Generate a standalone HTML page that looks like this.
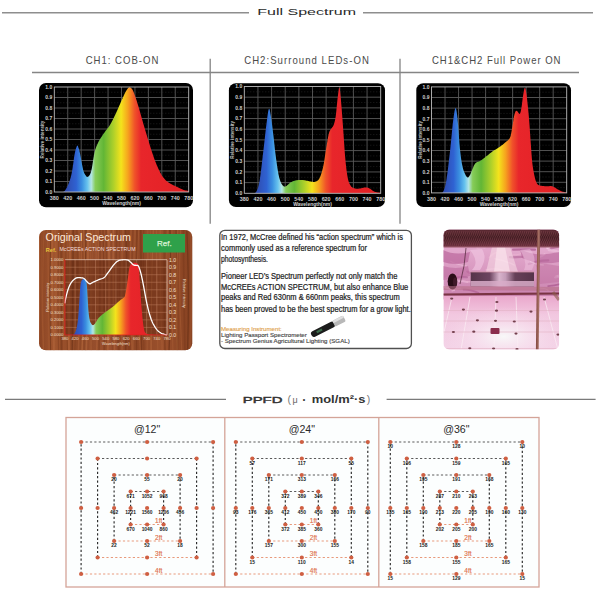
<!DOCTYPE html>
<html><head><meta charset="utf-8"><style>html,body{margin:0;padding:0;background:#fff;width:600px;height:600px;overflow:hidden}svg{display:block}</style></head><body>
<svg width="600" height="600" viewBox="0 0 600 600"><path d="M2 12.8H249M363 12.8H593" stroke="#8e8e8e" stroke-width="1.6"/>
<text x="257.3" y="14.8" fill="#2a2a2a" font-family="Liberation Sans, sans-serif" font-size="9.3" textLength="98.7" lengthAdjust="spacingAndGlyphs">Full Spectrum</text>
<path d="M32 72.5H579M210.2 58.7V223.8M400 58.7V223.8" stroke="#858585" stroke-width="1.3"/>
<g fill="#4a4a4a" font-family="Liberation Sans, sans-serif" font-size="10.3"><text transform="translate(85.7 63.8) scale(0.93 1)" x="0" y="0" textLength="78.1" lengthAdjust="spacing">CH1: COB-ON</text><text transform="translate(244.2 63.8) scale(0.93 1)" x="0" y="0" textLength="134.0" lengthAdjust="spacing">CH2:Surround LEDs-ON</text><text transform="translate(432 63.8) scale(0.93 1)" x="0" y="0" textLength="138.2" lengthAdjust="spacing">CH1&amp;CH2 Full Power ON</text></g>
<linearGradient id="g1" gradientUnits="userSpaceOnUse" x1="54.3" y1="0" x2="188.7" y2="0"><stop offset="0.000" stop-color="#2a2c8c"/><stop offset="0.100" stop-color="#2f4fb5"/><stop offset="0.163" stop-color="#2f62d2"/><stop offset="0.205" stop-color="#3a8fe0"/><stop offset="0.245" stop-color="#66c2ee"/><stop offset="0.275" stop-color="#b4e6e6"/><stop offset="0.305" stop-color="#86cc58"/><stop offset="0.367" stop-color="#62b636"/><stop offset="0.440" stop-color="#aed02a"/><stop offset="0.497" stop-color="#f4e31c"/><stop offset="0.547" stop-color="#f6a41e"/><stop offset="0.598" stop-color="#f0522a"/><stop offset="0.645" stop-color="#e8262b"/><stop offset="1.000" stop-color="#e22024"/></linearGradient>
<rect x="39" y="83" width="154" height="124.3" rx="7" fill="#000"/>
<path d="M54.3 97.5H188.7M54.3 108H188.7M54.3 118.5H188.7M54.3 129H188.7M54.3 139.5H188.7M54.3 150H188.7M54.3 160.5H188.7M54.3 171H188.7M54.3 181.5H188.7M67.74 87V192M81.18 87V192M94.62 87V192M108.06 87V192M121.5 87V192M134.94 87V192M148.38 87V192M161.82 87V192M175.26 87V192" stroke="#5a5a5a" stroke-width="0.9" fill="none"/>
<path d="M54.3 92.25H188.7M54.3 102.75H188.7M54.3 113.25H188.7M54.3 123.75H188.7M54.3 134.25H188.7M54.3 144.75H188.7M54.3 155.25H188.7M54.3 165.75H188.7M54.3 176.25H188.7M54.3 186.75H188.7" stroke="#333" stroke-width="0.6" stroke-dasharray="1 2" fill="none"/>
<path d="M54.3 192L54.3 192L55.27 192L56.66 192L58.29 192L59.96 192L61.49 192L62.7 192L63.55 191.71L64.19 191.34L64.69 190.88L65.13 190.33L65.56 189.65L66.06 188.85L66.63 187.9L67.2 186.83L67.78 185.63L68.35 184.34L68.9 182.96L69.42 181.5L69.91 180.02L70.37 178.51L70.81 176.91L71.24 175.16L71.67 173.21L72.11 171L72.56 168.33L73.02 165.21L73.47 161.88L73.92 158.59L74.37 155.6L74.8 153.15L75.22 151.21L75.64 149.57L76.06 148.23L76.45 147.16L76.82 146.36L77.15 145.8L77.43 145.55L77.66 145.64L77.86 146L78.06 146.54L78.26 147.2L78.49 147.9L78.74 148.6L78.98 149.34L79.23 150.2L79.5 151.24L79.81 152.55L80.17 154.2L80.61 156.4L81.11 159.14L81.64 162.14L82.19 165.13L82.72 167.82L83.2 169.95L83.63 171.48L84.03 172.61L84.41 173.46L84.79 174.11L85.16 174.66L85.55 175.2L85.93 175.76L86.29 176.27L86.66 176.68L87.04 176.93L87.45 176.98L87.9 176.78L88.4 176.39L88.95 175.88L89.52 175.17L90.1 174.17L90.69 172.81L91.26 171L91.81 168.51L92.36 165.36L92.9 161.85L93.45 158.26L94.02 154.92L94.62 152.1L95.23 149.85L95.84 147.94L96.47 146.26L97.13 144.71L97.86 143.19L98.65 141.6L99.55 139.94L100.54 138.29L101.59 136.68L102.66 135.11L103.71 133.59L104.7 132.15L105.63 130.84L106.54 129.66L107.43 128.54L108.31 127.41L109.19 126.18L110.08 124.8L110.98 123.23L111.89 121.53L112.81 119.75L113.71 117.92L114.59 116.09L115.45 114.3L116.27 112.55L117.07 110.8L117.85 109.05L118.61 107.3L119.38 105.55L120.16 103.8L120.96 101.99L121.77 100.11L122.59 98.22L123.39 96.41L124.15 94.75L124.86 93.3L125.51 92.07L126.13 90.99L126.71 90.05L127.25 89.26L127.75 88.59L128.22 88.05L128.62 87.64L128.95 87.37L129.25 87.23L129.54 87.21L129.86 87.31L130.24 87.53L130.66 87.77L131.09 88.03L131.56 88.41L132.07 89L132.63 89.9L133.26 91.2L133.98 92.98L134.79 95.17L135.65 97.66L136.55 100.36L137.44 103.14L138.3 105.9L139.14 108.7L139.98 111.66L140.82 114.69L141.66 117.76L142.5 120.8L143.34 123.75L144.18 126.62L145.02 129.47L145.86 132.28L146.7 135.07L147.54 137.82L148.38 140.55L149.22 143.27L150.06 145.99L150.9 148.69L151.74 151.32L152.58 153.87L153.42 156.3L154.26 158.63L155.11 160.89L155.96 163.06L156.8 165.13L157.64 167.08L158.46 168.9L159.26 170.58L160.03 172.13L160.79 173.56L161.56 174.89L162.34 176.13L163.16 177.3L163.99 178.37L164.81 179.32L165.64 180.19L166.52 180.99L167.48 181.77L168.54 182.55L169.74 183.32L171.07 184.07L172.47 184.78L173.89 185.47L175.29 186.12L176.6 186.75L177.86 187.36L179.11 187.96L180.32 188.52L181.49 189.04L182.61 189.51L183.66 189.9L184.67 190.21L185.68 190.44L186.62 190.62L187.47 190.76L188.17 190.86L188.7 190.95L188.7 192Z" fill="url(#g1)"/>
<rect x="54.3" y="87" width="134.4" height="105" fill="none" stroke="#bbb" stroke-width="0.9"/>
<g fill="#d0d0d0" font-family="Liberation Sans, sans-serif" font-size="5" font-weight="bold"><text x="52.3" y="88.8" text-anchor="end">1.0</text><text x="52.3" y="99.3" text-anchor="end">0.9</text><text x="52.3" y="109.8" text-anchor="end">0.8</text><text x="52.3" y="120.3" text-anchor="end">0.7</text><text x="52.3" y="130.8" text-anchor="end">0.6</text><text x="52.3" y="141.3" text-anchor="end">0.5</text><text x="52.3" y="151.8" text-anchor="end">0.4</text><text x="52.3" y="162.3" text-anchor="end">0.3</text><text x="52.3" y="172.8" text-anchor="end">0.2</text><text x="52.3" y="183.3" text-anchor="end">0.1</text><text x="52.3" y="193.8" text-anchor="end">0.0</text><text x="54.3" y="199.6" text-anchor="middle" font-size="5.4">380</text><text x="67.74" y="199.6" text-anchor="middle" font-size="5.4">420</text><text x="81.18" y="199.6" text-anchor="middle" font-size="5.4">460</text><text x="94.62" y="199.6" text-anchor="middle" font-size="5.4">500</text><text x="108.06" y="199.6" text-anchor="middle" font-size="5.4">540</text><text x="121.5" y="199.6" text-anchor="middle" font-size="5.4">580</text><text x="134.94" y="199.6" text-anchor="middle" font-size="5.4">620</text><text x="148.38" y="199.6" text-anchor="middle" font-size="5.4">660</text><text x="161.82" y="199.6" text-anchor="middle" font-size="5.4">700</text><text x="175.26" y="199.6" text-anchor="middle" font-size="5.4">740</text><text x="188.7" y="199.6" text-anchor="middle" font-size="5.4">780</text></g>
<text x="121.5" y="204.6" text-anchor="middle" fill="#d0d0d0" font-family="Liberation Sans, sans-serif" font-size="5" font-weight="bold">Wavelength(nm)</text>
<text transform="translate(44.2 139.5) rotate(-90)" text-anchor="middle" fill="#c0c0c0" font-family="Liberation Sans, sans-serif" font-size="4.6" font-weight="bold">Relative intensity</text>
<linearGradient id="g2" gradientUnits="userSpaceOnUse" x1="244.3" y1="0" x2="380.7" y2="0"><stop offset="0.000" stop-color="#2a2c8c"/><stop offset="0.100" stop-color="#2f4fb5"/><stop offset="0.163" stop-color="#2f62d2"/><stop offset="0.205" stop-color="#3a8fe0"/><stop offset="0.245" stop-color="#66c2ee"/><stop offset="0.275" stop-color="#b4e6e6"/><stop offset="0.305" stop-color="#86cc58"/><stop offset="0.367" stop-color="#62b636"/><stop offset="0.440" stop-color="#aed02a"/><stop offset="0.497" stop-color="#f4e31c"/><stop offset="0.547" stop-color="#f6a41e"/><stop offset="0.598" stop-color="#f0522a"/><stop offset="0.645" stop-color="#e8262b"/><stop offset="1.000" stop-color="#e22024"/></linearGradient>
<rect x="228.9" y="83.3" width="156.1" height="123.7" rx="7" fill="#000"/>
<path d="M244.3 97.18H380.7M244.3 107.86H380.7M244.3 118.54H380.7M244.3 129.22H380.7M244.3 139.9H380.7M244.3 150.58H380.7M244.3 161.26H380.7M244.3 171.94H380.7M244.3 182.62H380.7M257.94 86.5V193.3M271.58 86.5V193.3M285.22 86.5V193.3M298.86 86.5V193.3M312.5 86.5V193.3M326.14 86.5V193.3M339.78 86.5V193.3M353.42 86.5V193.3M367.06 86.5V193.3" stroke="#5a5a5a" stroke-width="0.9" fill="none"/>
<path d="M244.3 91.84H380.7M244.3 102.52H380.7M244.3 113.2H380.7M244.3 123.88H380.7M244.3 134.56H380.7M244.3 145.24H380.7M244.3 155.92H380.7M244.3 166.6H380.7M244.3 177.28H380.7M244.3 187.96H380.7" stroke="#333" stroke-width="0.6" stroke-dasharray="1 2" fill="none"/>
<path d="M244.3 193.3L244.3 193.3L245.28 193.3L246.69 193.3L248.33 193.3L250.02 193.3L251.58 193.3L252.83 193.3L253.73 193.17L254.45 193.06L255.04 192.9L255.55 192.59L256.05 192.04L256.58 191.16L257.12 190.1L257.62 188.95L258.11 187.56L258.6 185.78L259.1 183.48L259.64 180.48L260.24 176.58L260.87 171.82L261.52 166.53L262.17 161.02L262.8 155.6L263.4 150.58L263.95 145.81L264.49 141.01L265.02 136.3L265.52 131.79L266 127.61L266.47 123.88L266.91 120.45L267.32 117.2L267.72 114.27L268.11 111.82L268.48 109.99L268.85 108.93L269.21 108.75L269.55 109.36L269.88 110.6L270.2 112.29L270.54 114.28L270.9 116.4L271.28 118.81L271.68 121.66L272.09 124.81L272.5 128.11L272.9 131.41L273.29 134.56L273.64 137.57L273.97 140.57L274.29 143.57L274.61 146.58L274.95 149.63L275.33 152.72L275.75 155.97L276.2 159.4L276.67 162.86L277.15 166.2L277.62 169.28L278.06 171.94L278.47 174.16L278.87 176.05L279.25 177.68L279.64 179.1L280.03 180.37L280.45 181.55L280.88 182.62L281.33 183.51L281.79 184.26L282.25 184.87L282.72 185.39L283.17 185.82L283.61 186.18L284.02 186.44L284.43 186.59L284.87 186.63L285.35 186.56L285.9 186.36L286.53 185.96L287.23 185.37L287.97 184.66L288.74 183.91L289.54 183.2L290.34 182.62L291.15 182.15L291.99 181.73L292.85 181.35L293.72 181.02L294.59 180.73L295.45 180.48L296.3 180.29L297.15 180.15L298.01 180.05L298.86 179.99L299.71 179.96L300.56 179.95L301.42 179.97L302.27 180.03L303.12 180.12L303.98 180.23L304.83 180.35L305.68 180.48L306.53 180.64L307.38 180.84L308.24 181.05L309.09 181.26L309.94 181.43L310.8 181.55L311.66 181.66L312.54 181.79L313.42 181.89L314.28 181.91L315.12 181.81L315.91 181.55L316.66 181.17L317.38 180.72L318.06 180.15L318.73 179.42L319.37 178.47L320 177.28L320.62 175.82L321.21 174.12L321.79 172.21L322.35 170.12L322.89 167.89L323.41 165.53L323.91 162.97L324.37 160.15L324.82 157.19L325.26 154.18L325.69 151.23L326.14 148.44L326.6 145.7L327.07 142.91L327.55 140.17L328.01 137.61L328.45 135.34L328.87 133.49L329.24 132.16L329.58 131.28L329.89 130.69L330.21 130.25L330.54 129.81L330.91 129.22L331.34 128.56L331.8 127.95L332.28 127.35L332.76 126.69L333.22 125.91L333.64 124.95L334.02 123.89L334.37 122.81L334.71 121.61L335.03 120.2L335.35 118.5L335.69 116.4L336.03 113.71L336.38 110.43L336.73 106.86L337.08 103.27L337.41 99.95L337.73 97.18L338.04 94.74L338.33 92.35L338.61 90.24L338.88 88.6L339.16 87.64L339.44 87.57L339.72 88.5L339.99 90.3L340.27 92.77L340.55 95.76L340.84 99.06L341.14 102.52L341.47 106.27L341.8 110.47L342.15 115L342.5 119.73L342.85 124.51L343.19 129.22L343.53 134.01L343.86 139.03L344.19 144.11L344.53 149.08L344.88 153.78L345.24 158.06L345.61 161.94L345.98 165.57L346.37 168.94L346.76 172.02L347.18 174.81L347.62 177.28L348.08 179.39L348.54 181.14L349.03 182.59L349.54 183.81L350.09 184.86L350.69 185.82L351.34 186.64L352.04 187.25L352.78 187.69L353.55 188.02L354.33 188.27L355.12 188.49L355.93 188.66L356.74 188.73L357.58 188.73L358.43 188.67L359.32 188.59L360.24 188.49L361.23 188.35L362.29 188.12L363.37 187.86L364.45 187.62L365.46 187.46L366.38 187.43L367.18 187.53L367.89 187.72L368.55 187.99L369.18 188.32L369.81 188.67L370.47 189.03L371.13 189.43L371.76 189.9L372.39 190.4L373.05 190.89L373.76 191.33L374.56 191.7L375.54 191.98L376.68 192.21L377.89 192.4L379.03 192.55L380.01 192.67L380.7 192.77L380.7 193.3Z" fill="url(#g2)"/>
<rect x="244.3" y="86.5" width="136.4" height="106.8" fill="none" stroke="#bbb" stroke-width="0.9"/>
<g fill="#d0d0d0" font-family="Liberation Sans, sans-serif" font-size="5" font-weight="bold"><text x="242.3" y="88.3" text-anchor="end">1.0</text><text x="242.3" y="98.98" text-anchor="end">0.9</text><text x="242.3" y="109.66" text-anchor="end">0.8</text><text x="242.3" y="120.34" text-anchor="end">0.7</text><text x="242.3" y="131.02" text-anchor="end">0.6</text><text x="242.3" y="141.7" text-anchor="end">0.5</text><text x="242.3" y="152.38" text-anchor="end">0.4</text><text x="242.3" y="163.06" text-anchor="end">0.3</text><text x="242.3" y="173.74" text-anchor="end">0.2</text><text x="242.3" y="184.42" text-anchor="end">0.1</text><text x="242.3" y="195.1" text-anchor="end">0.0</text><text x="244.3" y="200.9" text-anchor="middle" font-size="5.4">380</text><text x="257.94" y="200.9" text-anchor="middle" font-size="5.4">420</text><text x="271.58" y="200.9" text-anchor="middle" font-size="5.4">460</text><text x="285.22" y="200.9" text-anchor="middle" font-size="5.4">500</text><text x="298.86" y="200.9" text-anchor="middle" font-size="5.4">540</text><text x="312.5" y="200.9" text-anchor="middle" font-size="5.4">580</text><text x="326.14" y="200.9" text-anchor="middle" font-size="5.4">620</text><text x="339.78" y="200.9" text-anchor="middle" font-size="5.4">660</text><text x="353.42" y="200.9" text-anchor="middle" font-size="5.4">700</text><text x="367.06" y="200.9" text-anchor="middle" font-size="5.4">740</text><text x="380.7" y="200.9" text-anchor="middle" font-size="5.4">780</text></g>
<text x="312.5" y="205.9" text-anchor="middle" fill="#d0d0d0" font-family="Liberation Sans, sans-serif" font-size="5" font-weight="bold">Wavelength(nm)</text>
<text transform="translate(234.1 139.9) rotate(-90)" text-anchor="middle" fill="#c0c0c0" font-family="Liberation Sans, sans-serif" font-size="4.6" font-weight="bold">Relative intensity</text>
<linearGradient id="g3" gradientUnits="userSpaceOnUse" x1="431.5" y1="0" x2="566.7" y2="0"><stop offset="0.000" stop-color="#2a2c8c"/><stop offset="0.100" stop-color="#2f4fb5"/><stop offset="0.163" stop-color="#2f62d2"/><stop offset="0.205" stop-color="#3a8fe0"/><stop offset="0.245" stop-color="#66c2ee"/><stop offset="0.275" stop-color="#b4e6e6"/><stop offset="0.305" stop-color="#86cc58"/><stop offset="0.367" stop-color="#62b636"/><stop offset="0.440" stop-color="#aed02a"/><stop offset="0.497" stop-color="#f4e31c"/><stop offset="0.547" stop-color="#f6a41e"/><stop offset="0.598" stop-color="#f0522a"/><stop offset="0.645" stop-color="#e8262b"/><stop offset="1.000" stop-color="#e22024"/></linearGradient>
<rect x="416.3" y="83.3" width="154.7" height="123.7" rx="7" fill="#000"/>
<path d="M431.5 97.5H566.7M431.5 108.1H566.7M431.5 118.7H566.7M431.5 129.3H566.7M431.5 139.9H566.7M431.5 150.5H566.7M431.5 161.1H566.7M431.5 171.7H566.7M431.5 182.3H566.7M445.02 86.9V192.9M458.54 86.9V192.9M472.06 86.9V192.9M485.58 86.9V192.9M499.1 86.9V192.9M512.62 86.9V192.9M526.14 86.9V192.9M539.66 86.9V192.9M553.18 86.9V192.9" stroke="#5a5a5a" stroke-width="0.9" fill="none"/>
<path d="M431.5 92.2H566.7M431.5 102.8H566.7M431.5 113.4H566.7M431.5 124H566.7M431.5 134.6H566.7M431.5 145.2H566.7M431.5 155.8H566.7M431.5 166.4H566.7M431.5 177H566.7M431.5 187.6H566.7" stroke="#333" stroke-width="0.6" stroke-dasharray="1 2" fill="none"/>
<path d="M431.5 192.9L431.5 192.9L432.48 192.9L433.88 192.9L435.51 192.9L437.2 192.9L438.74 192.9L439.95 192.9L440.81 192.84L441.46 192.84L441.98 192.8L442.42 192.61L442.84 192.15L443.33 191.31L443.85 190.22L444.34 188.99L444.83 187.5L445.32 185.62L445.83 183.22L446.37 180.18L446.96 176.31L447.59 171.66L448.23 166.5L448.88 161.08L449.5 155.66L450.09 150.5L450.64 145.36L451.18 139.98L451.7 134.6L452.19 129.46L452.67 124.79L453.13 120.82L453.57 117.45L453.98 114.46L454.38 111.94L454.76 109.98L455.13 108.67L455.5 108.1L455.85 108.3L456.19 109.2L456.51 110.75L456.84 112.89L457.17 115.56L457.53 118.7L457.9 122.69L458.29 127.65L458.69 133.14L459.09 138.72L459.49 143.95L459.89 148.38L460.28 152.04L460.67 155.29L461.05 158.19L461.44 160.79L461.84 163.15L462.26 165.34L462.69 167.3L463.13 168.97L463.59 170.41L464.05 171.66L464.51 172.78L464.96 173.82L465.42 174.79L465.88 175.65L466.34 176.37L466.79 176.94L467.23 177.33L467.67 177.53L468.08 177.5L468.47 177.26L468.85 176.83L469.23 176.27L469.62 175.61L470.03 174.88L470.46 174.02L470.91 173L471.36 171.87L471.82 170.7L472.28 169.56L472.74 168.52L473.17 167.54L473.57 166.56L473.98 165.61L474.41 164.71L474.89 163.91L475.44 163.22L476.06 162.71L476.73 162.36L477.45 162.09L478.21 161.85L479 161.54L479.83 161.1L480.7 160.53L481.61 159.88L482.56 159.18L483.54 158.43L484.55 157.65L485.58 156.86L486.65 156.03L487.76 155.13L488.9 154.21L490.05 153.29L491.2 152.39L492.34 151.56L493.47 150.8L494.59 150.11L495.72 149.44L496.85 148.77L497.97 148.08L499.1 147.32L500.26 146.49L501.45 145.59L502.65 144.67L503.81 143.75L504.89 142.85L505.86 142.02L506.72 141.3L507.49 140.69L508.18 140.1L508.81 139.47L509.39 138.72L509.92 137.78L510.37 136.66L510.74 135.42L511.06 134.07L511.34 132.6L511.63 131.01L511.94 129.3L512.29 127.34L512.63 125.1L512.98 122.74L513.32 120.43L513.65 118.32L513.97 116.58L514.27 115.21L514.56 114.07L514.84 113.14L515.11 112.38L515.38 111.77L515.66 111.28L515.94 110.94L516.2 110.79L516.46 110.78L516.74 110.89L517.03 111.07L517.35 111.28L517.72 111.67L518.12 112.28L518.54 112.97L518.95 113.58L519.35 113.95L519.72 113.93L520.04 113.53L520.33 112.87L520.61 111.98L520.87 110.87L521.13 109.57L521.41 108.1L521.69 106.32L521.97 104.17L522.25 101.84L522.53 99.48L522.82 97.27L523.1 95.38L523.38 93.68L523.66 92L523.94 90.48L524.22 89.22L524.51 88.34L524.79 87.96L525.06 88.04L525.33 88.47L525.59 89.28L525.86 90.51L526.16 92.18L526.48 94.32L526.84 97.1L527.24 100.52L527.66 104.39L528.08 108.49L528.48 112.62L528.84 116.58L529.16 120.42L529.46 124.31L529.73 128.24L530 132.17L530.26 136.06L530.53 139.9L530.81 143.78L531.08 147.75L531.36 151.69L531.64 155.49L531.92 159.01L532.22 162.16L532.55 164.91L532.89 167.34L533.24 169.51L533.59 171.46L533.93 173.24L534.25 174.88L534.55 176.34L534.82 177.57L535.08 178.62L535.34 179.55L535.63 180.41L535.94 181.24L536.27 182.04L536.59 182.77L536.93 183.43L537.32 184.01L537.77 184.52L538.31 184.95L538.96 185.29L539.7 185.53L540.5 185.69L541.35 185.81L542.2 185.91L543.04 186.01L543.89 186.11L544.78 186.19L545.68 186.26L546.56 186.3L547.38 186.32L548.11 186.33L548.73 186.29L549.25 186.2L549.72 186.09L550.16 186L550.63 185.96L551.15 186.01L551.72 186.15L552.32 186.36L552.93 186.62L553.56 186.92L554.2 187.25L554.87 187.6L555.57 187.99L556.3 188.44L557.05 188.93L557.8 189.41L558.54 189.86L559.26 190.25L559.97 190.59L560.67 190.89L561.36 191.16L562.03 191.41L562.69 191.64L563.32 191.84L563.96 192.02L564.62 192.18L565.26 192.31L565.85 192.42L566.34 192.51L566.7 192.58L566.7 192.9Z" fill="url(#g3)"/>
<rect x="431.5" y="86.9" width="135.2" height="106" fill="none" stroke="#bbb" stroke-width="0.9"/>
<g fill="#d0d0d0" font-family="Liberation Sans, sans-serif" font-size="5" font-weight="bold"><text x="429.5" y="88.7" text-anchor="end">1.0</text><text x="429.5" y="99.3" text-anchor="end">0.9</text><text x="429.5" y="109.9" text-anchor="end">0.8</text><text x="429.5" y="120.5" text-anchor="end">0.7</text><text x="429.5" y="131.1" text-anchor="end">0.6</text><text x="429.5" y="141.7" text-anchor="end">0.5</text><text x="429.5" y="152.3" text-anchor="end">0.4</text><text x="429.5" y="162.9" text-anchor="end">0.3</text><text x="429.5" y="173.5" text-anchor="end">0.2</text><text x="429.5" y="184.1" text-anchor="end">0.1</text><text x="429.5" y="194.7" text-anchor="end">0.0</text><text x="431.5" y="200.5" text-anchor="middle" font-size="5.4">380</text><text x="445.02" y="200.5" text-anchor="middle" font-size="5.4">420</text><text x="458.54" y="200.5" text-anchor="middle" font-size="5.4">460</text><text x="472.06" y="200.5" text-anchor="middle" font-size="5.4">500</text><text x="485.58" y="200.5" text-anchor="middle" font-size="5.4">540</text><text x="499.1" y="200.5" text-anchor="middle" font-size="5.4">580</text><text x="512.62" y="200.5" text-anchor="middle" font-size="5.4">620</text><text x="526.14" y="200.5" text-anchor="middle" font-size="5.4">660</text><text x="539.66" y="200.5" text-anchor="middle" font-size="5.4">700</text><text x="553.18" y="200.5" text-anchor="middle" font-size="5.4">740</text><text x="566.7" y="200.5" text-anchor="middle" font-size="5.4">780</text></g>
<text x="499.1" y="205.5" text-anchor="middle" fill="#d0d0d0" font-family="Liberation Sans, sans-serif" font-size="5" font-weight="bold">Wavelength(nm)</text>
<text transform="translate(421.5 139.9) rotate(-90)" text-anchor="middle" fill="#c0c0c0" font-family="Liberation Sans, sans-serif" font-size="4.6" font-weight="bold">Relative intensity</text>
<linearGradient id="wood" x1="0" y1="0" x2="1" y2="0">
<stop offset="0" stop-color="#8a4424"/><stop offset="0.1" stop-color="#a0552e"/><stop offset="0.25" stop-color="#8e4826"/>
<stop offset="0.45" stop-color="#9c5230"/><stop offset="0.6" stop-color="#8a4424"/><stop offset="0.8" stop-color="#9a502c"/><stop offset="1" stop-color="#874222"/></linearGradient>
<clipPath id="woodclip"><rect x="39" y="230" width="153.3" height="120.3" rx="7"/></clipPath>
<rect x="39" y="230" width="153.3" height="120.3" rx="7" fill="url(#wood)"/>
<g clip-path="url(#woodclip)"><path d="M39 230 Q40.14 290.15 38.43 350.3" stroke="#b86c40" stroke-width="1.6" fill="none" opacity="0.55"/><path d="M42.13 230 Q40.62 290.15 43.23 350.3" stroke="#a85e36" stroke-width="1.4" fill="none" opacity="0.32"/><path d="M44.02 230 Q41.63 290.15 43.55 350.3" stroke="#b0643a" stroke-width="1.2" fill="none" opacity="0.37"/><path d="M47.35 230 Q48.94 290.15 49.02 350.3" stroke="#b0643a" stroke-width="1.3" fill="none" opacity="0.35"/><path d="M50.84 230 Q48.64 290.15 50.62 350.3" stroke="#5e2a12" stroke-width="0.8" fill="none" opacity="0.59"/><path d="M52.36 230 Q51.09 290.15 53.85 350.3" stroke="#b0643a" stroke-width="1.8" fill="none" opacity="0.59"/><path d="M55.2 230 Q58.02 290.15 53.93 350.3" stroke="#b0643a" stroke-width="1.7" fill="none" opacity="0.36"/><path d="M59.12 230 Q57.11 290.15 58.56 350.3" stroke="#6e3216" stroke-width="1.2" fill="none" opacity="0.34"/><path d="M60.78 230 Q61.36 290.15 61.12 350.3" stroke="#5e2a12" stroke-width="1.1" fill="none" opacity="0.51"/><path d="M62.45 230 Q61.34 290.15 62.37 350.3" stroke="#7a3a1c" stroke-width="1.2" fill="none" opacity="0.44"/><path d="M65.71 230 Q64.85 290.15 67.5 350.3" stroke="#6e3216" stroke-width="0.7" fill="none" opacity="0.42"/><path d="M68.58 230 Q65.63 290.15 68.89 350.3" stroke="#a85e36" stroke-width="1.3" fill="none" opacity="0.31"/><path d="M70.53 230 Q69.01 290.15 69.01 350.3" stroke="#b0643a" stroke-width="2.1" fill="none" opacity="0.55"/><path d="M73.19 230 Q72.96 290.15 72.19 350.3" stroke="#5e2a12" stroke-width="1.4" fill="none" opacity="0.48"/><path d="M76.64 230 Q79.31 290.15 74.79 350.3" stroke="#7a3a1c" stroke-width="1.2" fill="none" opacity="0.33"/><path d="M78.99 230 Q81.54 290.15 78.35 350.3" stroke="#b0643a" stroke-width="1.6" fill="none" opacity="0.46"/><path d="M81.27 230 Q82.03 290.15 82.47 350.3" stroke="#b0643a" stroke-width="1.1" fill="none" opacity="0.52"/><path d="M83.55 230 Q86.47 290.15 81.74 350.3" stroke="#b86c40" stroke-width="1.4" fill="none" opacity="0.46"/><path d="M86.06 230 Q84.56 290.15 85.44 350.3" stroke="#5e2a12" stroke-width="1.0" fill="none" opacity="0.50"/><path d="M87.92 230 Q87.89 290.15 86.06 350.3" stroke="#b86c40" stroke-width="2.2" fill="none" opacity="0.55"/><path d="M89.75 230 Q91.48 290.15 90.27 350.3" stroke="#b0643a" stroke-width="1.8" fill="none" opacity="0.33"/><path d="M92.34 230 Q92.06 290.15 91.52 350.3" stroke="#a85e36" stroke-width="0.8" fill="none" opacity="0.60"/><path d="M95.97 230 Q97.1 290.15 97.81 350.3" stroke="#a85e36" stroke-width="2.2" fill="none" opacity="0.40"/><path d="M98.15 230 Q100.09 290.15 96.6 350.3" stroke="#b0643a" stroke-width="1.4" fill="none" opacity="0.46"/><path d="M100.1 230 Q100.05 290.15 98.82 350.3" stroke="#7a3a1c" stroke-width="2.1" fill="none" opacity="0.45"/><path d="M102.97 230 Q104.62 290.15 104.12 350.3" stroke="#6e3216" stroke-width="1.4" fill="none" opacity="0.51"/><path d="M106.13 230 Q107.14 290.15 106.37 350.3" stroke="#7a3a1c" stroke-width="1.8" fill="none" opacity="0.55"/><path d="M108.29 230 Q110.97 290.15 107.47 350.3" stroke="#b86c40" stroke-width="2.2" fill="none" opacity="0.49"/><path d="M111.25 230 Q110.2 290.15 112.34 350.3" stroke="#5e2a12" stroke-width="0.6" fill="none" opacity="0.38"/><path d="M113.47 230 Q112.56 290.15 114.66 350.3" stroke="#b86c40" stroke-width="1.4" fill="none" opacity="0.49"/><path d="M116.81 230 Q114.85 290.15 118.5 350.3" stroke="#7a3a1c" stroke-width="1.9" fill="none" opacity="0.56"/><path d="M119.44 230 Q119.61 290.15 119.51 350.3" stroke="#7a3a1c" stroke-width="1.2" fill="none" opacity="0.35"/><path d="M123.03 230 Q120.5 290.15 122.16 350.3" stroke="#a85e36" stroke-width="2.1" fill="none" opacity="0.50"/><path d="M125.57 230 Q128.19 290.15 125.64 350.3" stroke="#5e2a12" stroke-width="1.6" fill="none" opacity="0.39"/><path d="M128.45 230 Q125.62 290.15 129.33 350.3" stroke="#7a3a1c" stroke-width="2.0" fill="none" opacity="0.35"/><path d="M131.06 230 Q129.14 290.15 132.09 350.3" stroke="#b0643a" stroke-width="1.6" fill="none" opacity="0.52"/><path d="M135.02 230 Q132.82 290.15 133.24 350.3" stroke="#b0643a" stroke-width="2.2" fill="none" opacity="0.40"/><path d="M136.98 230 Q136.08 290.15 136.64 350.3" stroke="#6e3216" stroke-width="0.9" fill="none" opacity="0.50"/><path d="M138.66 230 Q135.66 290.15 140.27 350.3" stroke="#b86c40" stroke-width="0.9" fill="none" opacity="0.42"/><path d="M140.85 230 Q141.14 290.15 141.61 350.3" stroke="#6e3216" stroke-width="1.3" fill="none" opacity="0.59"/><path d="M143.73 230 Q142.76 290.15 143.91 350.3" stroke="#7a3a1c" stroke-width="1.1" fill="none" opacity="0.47"/><path d="M147.62 230 Q148.01 290.15 147.26 350.3" stroke="#a85e36" stroke-width="1.9" fill="none" opacity="0.46"/><path d="M150.29 230 Q153.03 290.15 150.55 350.3" stroke="#a85e36" stroke-width="0.9" fill="none" opacity="0.59"/><path d="M153.31 230 Q150.96 290.15 151.32 350.3" stroke="#b86c40" stroke-width="1.2" fill="none" opacity="0.47"/><path d="M156.35 230 Q156.74 290.15 157.86 350.3" stroke="#b86c40" stroke-width="0.8" fill="none" opacity="0.43"/><path d="M160.29 230 Q159.57 290.15 162.18 350.3" stroke="#a85e36" stroke-width="1.4" fill="none" opacity="0.59"/><path d="M164.08 230 Q162.88 290.15 165.04 350.3" stroke="#7a3a1c" stroke-width="1.6" fill="none" opacity="0.38"/><path d="M165.63 230 Q164.34 290.15 165.59 350.3" stroke="#7a3a1c" stroke-width="2.1" fill="none" opacity="0.44"/><path d="M167.43 230 Q164.67 290.15 166.41 350.3" stroke="#a85e36" stroke-width="1.6" fill="none" opacity="0.34"/><path d="M169.91 230 Q172.52 290.15 169.01 350.3" stroke="#5e2a12" stroke-width="1.4" fill="none" opacity="0.53"/><path d="M172.03 230 Q170.74 290.15 172.91 350.3" stroke="#b0643a" stroke-width="1.0" fill="none" opacity="0.45"/><path d="M176.01 230 Q178.38 290.15 177.53 350.3" stroke="#5e2a12" stroke-width="1.4" fill="none" opacity="0.30"/><path d="M177.82 230 Q176.6 290.15 177.17 350.3" stroke="#b86c40" stroke-width="1.1" fill="none" opacity="0.46"/><path d="M180.48 230 Q178.28 290.15 181.73 350.3" stroke="#b86c40" stroke-width="1.2" fill="none" opacity="0.30"/><path d="M183.37 230 Q183.64 290.15 184.92 350.3" stroke="#6e3216" stroke-width="1.7" fill="none" opacity="0.30"/><path d="M186.81 230 Q189.53 290.15 187.57 350.3" stroke="#5e2a12" stroke-width="1.3" fill="none" opacity="0.49"/><path d="M190.46 230 Q192.57 290.15 190.03 350.3" stroke="#a85e36" stroke-width="1.9" fill="none" opacity="0.36"/></g>
<rect x="64.9" y="259.7" width="102.1" height="75.2" fill="#5a2410" opacity="0.45"/>
<path d="M64.9 267.22H167M75.11 259.7V334.9M64.9 274.74H167M85.32 259.7V334.9M64.9 282.26H167M95.53 259.7V334.9M64.9 289.78H167M105.74 259.7V334.9M64.9 297.3H167M115.95 259.7V334.9M64.9 304.82H167M126.16 259.7V334.9M64.9 312.34H167M136.37 259.7V334.9M64.9 319.86H167M146.58 259.7V334.9M64.9 327.38H167M156.79 259.7V334.9" stroke="#c08060" stroke-width="0.6" fill="none" opacity="0.8"/>
<linearGradient id="gorig" gradientUnits="userSpaceOnUse" x1="64.9" y1="0" x2="167" y2="0"><stop offset="0.000" stop-color="#2a2c8c"/><stop offset="0.100" stop-color="#2f4fb5"/><stop offset="0.163" stop-color="#2f62d2"/><stop offset="0.205" stop-color="#3a8fe0"/><stop offset="0.245" stop-color="#66c2ee"/><stop offset="0.275" stop-color="#b4e6e6"/><stop offset="0.305" stop-color="#86cc58"/><stop offset="0.367" stop-color="#62b636"/><stop offset="0.440" stop-color="#aed02a"/><stop offset="0.497" stop-color="#f4e31c"/><stop offset="0.547" stop-color="#f6a41e"/><stop offset="0.598" stop-color="#f0522a"/><stop offset="0.645" stop-color="#e8262b"/><stop offset="1.000" stop-color="#e22024"/></linearGradient>
<path d="M64.9 334.9L64.9 334.9L65.8 334.9L67.09 334.9L68.6 334.9L70.14 334.9L71.52 334.9L72.56 334.9L73.23 334.77L73.66 334.62L73.95 334.43L74.15 334.18L74.34 333.84L74.6 333.4L74.92 332.87L75.22 332.28L75.52 331.61L75.82 330.83L76.11 329.93L76.39 328.88L76.66 327.73L76.93 326.49L77.18 325.12L77.44 323.59L77.68 321.85L77.92 319.86L78.15 317.52L78.37 314.85L78.59 311.96L78.8 309L79 306.07L79.19 303.32L79.38 300.63L79.55 297.88L79.72 295.18L79.88 292.62L80.05 290.29L80.22 288.28L80.38 286.62L80.54 285.24L80.69 284.09L80.86 283.12L81.04 282.28L81.24 281.51L81.46 280.85L81.71 280.35L81.97 279.98L82.24 279.7L82.51 279.47L82.77 279.25L83.02 279.06L83.28 278.93L83.53 278.85L83.79 278.82L84.04 278.83L84.3 278.88L84.56 278.93L84.83 278.99L85.1 279.09L85.36 279.27L85.6 279.56L85.83 280L86.03 280.56L86.22 281.2L86.39 281.95L86.55 282.86L86.7 283.95L86.85 285.27L86.99 286.87L87.13 288.75L87.25 290.81L87.37 292.98L87.49 295.17L87.62 297.3L87.74 299.42L87.85 301.62L87.97 303.83L88.09 306.02L88.23 308.12L88.38 310.08L88.56 311.95L88.75 313.77L88.96 315.51L89.18 317.13L89.41 318.59L89.66 319.86L89.93 320.91L90.22 321.77L90.52 322.47L90.83 323.05L91.14 323.55L91.45 324L91.74 324.4L92.02 324.72L92.31 324.96L92.6 325.11L92.91 325.17L93.23 325.12L93.58 324.97L93.94 324.71L94.32 324.35L94.71 323.91L95.11 323.41L95.53 322.87L95.94 322.25L96.35 321.53L96.77 320.75L97.23 319.94L97.75 319.13L98.34 318.36L99.02 317.6L99.79 316.82L100.62 316.05L101.48 315.29L102.34 314.55L103.19 313.84L104.02 313.17L104.87 312.53L105.72 311.92L106.58 311.31L107.44 310.7L108.29 310.08L109.16 309.46L110.03 308.83L110.91 308.2L111.77 307.58L112.61 306.95L113.4 306.32L114.14 305.69L114.85 305.04L115.54 304.4L116.2 303.76L116.84 303.15L117.48 302.56L118.11 302.01L118.73 301.48L119.33 300.97L119.92 300.48L120.49 300.01L121.06 299.56L121.62 299.14L122.19 298.75L122.75 298.38L123.27 298.02L123.73 297.67L124.12 297.3L124.4 296.98L124.6 296.72L124.74 296.45L124.86 296.13L124.98 295.68L125.14 295.04L125.33 294.22L125.54 293.26L125.75 292.18L125.96 290.98L126.18 289.67L126.42 288.28L126.66 286.72L126.92 284.99L127.18 283.15L127.45 281.29L127.7 279.46L127.95 277.75L128.17 276.1L128.39 274.43L128.6 272.81L128.81 271.29L129.01 269.91L129.22 268.72L129.43 267.77L129.62 267L129.81 266.37L130.02 265.86L130.24 265.4L130.5 264.96L130.79 264.57L131.1 264.27L131.44 264.02L131.79 263.82L132.16 263.64L132.54 263.46L132.94 263.27L133.37 263.1L133.82 262.94L134.26 262.82L134.69 262.74L135.09 262.71L135.47 262.73L135.84 262.79L136.19 262.9L136.53 263.04L136.85 263.23L137.14 263.46L137.4 263.65L137.63 263.79L137.84 263.98L138.03 264.3L138.22 264.84L138.41 265.72L138.6 266.92L138.77 268.39L138.94 270.09L139.1 271.98L139.27 274.05L139.43 276.24L139.6 278.65L139.76 281.31L139.93 284.14L140.09 287.05L140.27 289.96L140.45 292.79L140.65 295.61L140.87 298.5L141.09 301.39L141.31 304.21L141.53 306.88L141.73 309.33L141.91 311.53L142.07 313.54L142.22 315.4L142.38 317.16L142.55 318.88L142.75 320.61L142.97 322.41L143.21 324.23L143.47 326.02L143.73 327.69L144.01 329.17L144.28 330.39L144.55 331.3L144.81 331.96L145.08 332.43L145.37 332.78L145.69 333.08L146.07 333.4L146.48 333.7L146.92 333.94L147.39 334.12L147.91 334.27L148.49 334.4L149.13 334.52L149.78 334.63L150.4 334.72L151.08 334.78L151.89 334.83L152.92 334.87L154.24 334.9L156.07 334.9L158.4 334.9L160.94 334.9L163.41 334.9L165.52 334.9L167 334.9L167 334.9Z" fill="url(#gorig)"/>
<path d="M64.9 303.32L65 302.68L65.13 301.81L65.28 300.78L65.47 299.64L65.68 298.46L65.92 297.3L66.2 296.12L66.51 294.85L66.85 293.54L67.21 292.23L67.58 290.96L67.96 289.78L68.35 288.67L68.75 287.59L69.16 286.56L69.59 285.57L70.04 284.64L70.52 283.76L71.02 282.94L71.56 282.16L72.13 281.44L72.7 280.77L73.27 280.17L73.83 279.63L74.38 279.16L74.93 278.76L75.48 278.43L76.03 278.15L76.58 277.93L77.15 277.75L77.74 277.63L78.33 277.58L78.94 277.58L79.54 277.62L80.14 277.68L80.73 277.75L81.3 277.8L81.87 277.86L82.43 277.94L82.98 278.05L83.52 278.24L84.04 278.5L84.54 278.88L85.02 279.36L85.48 279.91L85.93 280.48L86.39 281.02L86.85 281.51L87.31 281.97L87.77 282.45L88.22 282.92L88.69 283.32L89.16 283.61L89.66 283.76L90.16 283.74L90.66 283.57L91.17 283.29L91.72 282.96L92.32 282.6L92.98 282.26L93.74 281.92L94.58 281.54L95.48 281.13L96.39 280.73L97.27 280.35L98.08 280L98.84 279.71L99.58 279.45L100.28 279.2L100.96 278.97L101.59 278.74L102.17 278.5L102.68 278.27L103.14 278.05L103.55 277.84L103.94 277.61L104.33 277.33L104.72 277L105.1 276.6L105.47 276.16L105.82 275.68L106.18 275.16L106.58 274.59L107.02 273.99L107.51 273.32L108.05 272.6L108.61 271.83L109.19 271.04L109.77 270.25L110.33 269.48L110.89 268.71L111.44 267.93L111.99 267.15L112.55 266.38L113.1 265.65L113.65 264.96L114.21 264.31L114.76 263.68L115.31 263.08L115.86 262.53L116.42 262.02L116.97 261.58L117.52 261.21L118.06 260.9L118.6 260.64L119.15 260.42L119.71 260.24L120.29 260.08L120.9 259.94L121.53 259.84L122.17 259.77L122.82 259.73L123.47 259.71L124.12 259.7L124.77 259.7L125.43 259.7L126.1 259.72L126.75 259.78L127.37 259.9L127.95 260.08L128.47 260.34L128.96 260.67L129.41 261.06L129.86 261.48L130.3 261.91L130.75 262.33L131.22 262.78L131.69 263.27L132.16 263.77L132.63 264.24L133.09 264.65L133.56 264.96L134.04 265.15L134.53 265.24L135.01 265.27L135.49 265.27L135.95 265.28L136.37 265.34L136.75 265.39L137.11 265.38L137.44 265.39L137.76 265.47L138.08 265.68L138.41 266.09L138.76 266.73L139.1 267.54L139.45 268.49L139.79 269.53L140.13 270.63L140.45 271.73L140.76 272.84L141.06 273.99L141.35 275.19L141.64 276.45L141.93 277.8L142.24 279.25L142.57 280.84L142.91 282.57L143.26 284.38L143.61 286.21L143.95 288.03L144.28 289.78L144.59 291.44L144.87 293.04L145.14 294.62L145.43 296.21L145.73 297.85L146.07 299.56L146.44 301.37L146.84 303.26L147.27 305.2L147.7 307.13L148.16 309.03L148.62 310.84L149.1 312.6L149.61 314.35L150.12 316.05L150.65 317.69L151.17 319.22L151.69 320.61L152.2 321.86L152.72 322.98L153.23 324L153.75 324.93L154.25 325.8L154.75 326.63L155.22 327.4L155.68 328.09L156.14 328.72L156.59 329.3L157.06 329.85L157.56 330.39L158.08 330.91L158.62 331.4L159.18 331.86L159.75 332.28L160.32 332.67L160.87 333.02L161.43 333.32L162 333.57L162.57 333.79L163.12 333.97L163.67 334.14L164.19 334.3L164.72 334.44L165.27 334.57L165.8 334.68L166.29 334.77L166.7 334.84L167 334.9" stroke="#fff" stroke-width="1.3" fill="none"/>
<path d="M64.9 259.7H167" stroke="#f0d8c8" stroke-width="0.7"/>
<path d="M64.9 259.7V334.9" stroke="#e02020" stroke-width="0.9"/>
<path d="M64.9 334.9H167" stroke="#e02020" stroke-width="0.7"/>
<path d="M167 259.7V334.9" stroke="#f0d8c8" stroke-width="0.7"/>
<g fill="#f3e0d0" font-family="Liberation Sans, sans-serif" font-size="4.2"><text x="63.4" y="261.2" text-anchor="end">1.0000</text><text x="169" y="261.5" font-size="5.2">1.0</text><text x="63.4" y="268.72" text-anchor="end">0.9000</text><text x="169" y="269.02" font-size="5.2">0.9</text><text x="63.4" y="276.24" text-anchor="end">0.8000</text><text x="169" y="276.54" font-size="5.2">0.8</text><text x="63.4" y="283.76" text-anchor="end">0.7000</text><text x="169" y="284.06" font-size="5.2">0.7</text><text x="63.4" y="291.28" text-anchor="end">0.6000</text><text x="169" y="291.58" font-size="5.2">0.6</text><text x="63.4" y="298.8" text-anchor="end">0.5000</text><text x="169" y="299.1" font-size="5.2">0.5</text><text x="63.4" y="306.32" text-anchor="end">0.4000</text><text x="169" y="306.62" font-size="5.2">0.4</text><text x="63.4" y="313.84" text-anchor="end">0.3000</text><text x="169" y="314.14" font-size="5.2">0.3</text><text x="63.4" y="321.36" text-anchor="end">0.2000</text><text x="169" y="321.66" font-size="5.2">0.2</text><text x="63.4" y="328.88" text-anchor="end">0.1000</text><text x="169" y="329.18" font-size="5.2">0.1</text><text x="63.4" y="336.4" text-anchor="end">0.0000</text><text x="169" y="336.7" font-size="5.2">0.0</text><text x="64.9" y="340.4" text-anchor="middle">380</text><text x="75.11" y="340.4" text-anchor="middle">420</text><text x="85.32" y="340.4" text-anchor="middle">460</text><text x="95.53" y="340.4" text-anchor="middle">500</text><text x="105.74" y="340.4" text-anchor="middle">540</text><text x="115.95" y="340.4" text-anchor="middle">580</text><text x="126.16" y="340.4" text-anchor="middle">620</text><text x="136.37" y="340.4" text-anchor="middle">660</text><text x="146.58" y="340.4" text-anchor="middle">700</text><text x="156.79" y="340.4" text-anchor="middle">740</text><text x="167" y="340.4" text-anchor="middle">780</text></g>
<text x="115.95" y="345.4" text-anchor="middle" fill="#f3e0d0" font-family="Liberation Sans, sans-serif" font-size="3.8">Wavelength(nm)</text>
<text transform="translate(49 297.3) rotate(-90)" text-anchor="middle" fill="#f3e0d0" font-family="Liberation Sans, sans-serif" font-size="3.8">Relative intensity</text>
<text transform="translate(183.3 293.3) rotate(90)" text-anchor="middle" fill="#f3e0d0" font-family="Liberation Sans, sans-serif" font-size="3.8">Relative intensity</text>
<text x="45.6" y="241.3" fill="#fde8d8" font-family="Liberation Sans, sans-serif" font-size="11" textLength="85.4" lengthAdjust="spacingAndGlyphs">Original Spectrum</text>
<text x="45.8" y="251.6" font-family="Liberation Sans, sans-serif" font-size="5.8" font-weight="bold" fill="#e8c43a" textLength="10.5" lengthAdjust="spacingAndGlyphs">Ref.</text><text x="59.5" y="251.4" font-family="Liberation Sans, sans-serif" font-size="5.4" fill="#f3dede" textLength="76" lengthAdjust="spacingAndGlyphs">McCREEs ACTION SPECTRUM</text>
<rect x="143" y="234" width="42" height="18.5" fill="#2fa14a"/>
<text x="164.3" y="245.8" text-anchor="middle" fill="#dcf4d6" stroke="#dcf4d6" stroke-width="0.25" font-family="Liberation Sans, sans-serif" font-size="8">Ref.</text>
<rect x="219.8" y="230.3" width="191.6" height="118.2" rx="5" fill="#fff" stroke="#505050" stroke-width="1.3"/>
<g fill="#1e1e1e" stroke="#1e1e1e" stroke-width="0.22" font-family="Liberation Sans, sans-serif" font-size="8.2"><text x="221" y="240.4" textLength="182" lengthAdjust="spacingAndGlyphs">In 1972, McCree defined his “action spectrum” which is</text><text x="221" y="251.2" textLength="146" lengthAdjust="spacingAndGlyphs">commonly used as a reference spectrum for</text><text x="221" y="262" textLength="47" lengthAdjust="spacingAndGlyphs">photosynthesis.</text><text x="221" y="278.7" textLength="176.5" lengthAdjust="spacingAndGlyphs">Pioneer LED’s Spectrum perfectly not only match the</text><text x="221" y="289.7" textLength="187.3" lengthAdjust="spacingAndGlyphs">McCREEs ACTION SPECTRUM, but also enhance Blue</text><text x="221" y="300.2" textLength="178.7" lengthAdjust="spacingAndGlyphs">peaks and Red 630nm &amp; 660nm peaks, this spectrum</text><text x="221" y="311.7" textLength="189.8" lengthAdjust="spacingAndGlyphs">has been proved to be the best spectrum for a grow light.</text></g>
<text x="221" y="330.8" fill="#e0a04a" stroke="#e0a04a" stroke-width="0.12" font-family="Liberation Sans, sans-serif" font-size="5.3" textLength="60.8" lengthAdjust="spacingAndGlyphs">Measuring Instrument:</text>
<text x="221" y="336.7" fill="#444" stroke="#444" stroke-width="0.12" font-family="Liberation Sans, sans-serif" font-size="5.3" textLength="85.8" lengthAdjust="spacingAndGlyphs">Lighting Passport Spectrometer</text>
<text x="221" y="342.6" fill="#444" stroke="#444" stroke-width="0.12" font-family="Liberation Sans, sans-serif" font-size="5.3" textLength="128.7" lengthAdjust="spacingAndGlyphs">- Spectrum Genius Agricultural Lighting (SGAL)</text>
<g transform="translate(327.5 327) rotate(-27)"><rect x="-18" y="-3" width="26" height="6" rx="2.5" fill="#1c1c1c"/><rect x="-12" y="-1.4" width="6" height="2.4" fill="#3d6a4a"/><rect x="7" y="-3.3" width="12" height="6.6" rx="1.5" fill="#b8b8b8"/><rect x="7" y="-3.3" width="12" height="2.5" rx="1" fill="#e0e0e0"/></g>
<clipPath id="phclip"><rect x="443.4" y="229.4" width="115.8" height="120.1" rx="6"/></clipPath>
<linearGradient id="phtop" x1="0" y1="0" x2="0" y2="1">
<stop offset="0" stop-color="#5e2c34"/><stop offset="0.45" stop-color="#3e1a20"/><stop offset="1" stop-color="#6e3040"/></linearGradient>
<linearGradient id="phwall" x1="0" y1="0" x2="0" y2="1">
<stop offset="0" stop-color="#d088b8"/><stop offset="0.3" stop-color="#e2a8cc"/><stop offset="0.6" stop-color="#d898c0"/><stop offset="1" stop-color="#c880ac"/></linearGradient>
<linearGradient id="phfloor" x1="0" y1="0" x2="0" y2="1">
<stop offset="0" stop-color="#eaa8cc"/><stop offset="0.35" stop-color="#f2c8e0"/><stop offset="1" stop-color="#f4d4e8"/></linearGradient>
<radialGradient id="phglow" cx="0.52" cy="0.75" r="0.55"><stop offset="0" stop-color="#f8f8f8" stop-opacity="1"/><stop offset="0.5" stop-color="#f8e4f0" stop-opacity="0.6"/><stop offset="1" stop-color="#f4d4e6" stop-opacity="0"/></radialGradient>
<linearGradient id="phpole" x1="0" y1="0" x2="1" y2="0"><stop offset="0" stop-color="#8a5048"/><stop offset="0.5" stop-color="#b88070"/><stop offset="1" stop-color="#946058"/></linearGradient>
<g clip-path="url(#phclip)"><rect x="443.4" y="229.4" width="115.8" height="70" fill="url(#phwall)"/><path d="M494.3 271.7 Q502.6 271.4 506.7 274.8" stroke="#eab0d0" stroke-width="2.3" fill="none" opacity="0.59" stroke-linecap="round"/><path d="M513.7 254.6 Q519.5 255.1 521.6 253.2" stroke="#eab0d0" stroke-width="1.1" fill="none" opacity="0.79" stroke-linecap="round"/><path d="M555.8 276.1 Q562.0 273.4 564.3 275.9" stroke="#f0c0dc" stroke-width="1.1" fill="none" opacity="0.75" stroke-linecap="round"/><path d="M512.0 281.8 Q519.1 280.6 525.9 277.8" stroke="#f6d2e8" stroke-width="1.8" fill="none" opacity="0.66" stroke-linecap="round"/><path d="M494.9 258.8 Q505.8 260.8 514.2 265.1" stroke="#f0c0dc" stroke-width="1.4" fill="none" opacity="0.52" stroke-linecap="round"/><path d="M448.4 281.2 Q455.0 276.4 466.9 277.3" stroke="#a45088" stroke-width="2.1" fill="none" opacity="0.49" stroke-linecap="round"/><path d="M551.2 248.4 Q556.8 247.3 567.4 244.6" stroke="#a45088" stroke-width="2.2" fill="none" opacity="0.51" stroke-linecap="round"/><path d="M450.5 261.3 Q456.4 264.9 466.8 266.0" stroke="#f0c0dc" stroke-width="1.0" fill="none" opacity="0.59" stroke-linecap="round"/><path d="M498.4 277.4 Q503.6 274.2 509.8 272.3" stroke="#f6d2e8" stroke-width="1.6" fill="none" opacity="0.80" stroke-linecap="round"/><path d="M440.1 285.8 Q445.2 287.2 453.9 289.9" stroke="#f0c0dc" stroke-width="2.4" fill="none" opacity="0.66" stroke-linecap="round"/><path d="M452.0 291.5 Q455.2 288.6 460.4 288.1" stroke="#eab0d0" stroke-width="1.1" fill="none" opacity="0.44" stroke-linecap="round"/><path d="M509.9 257.2 Q513.7 257.5 521.9 256.8" stroke="#a45088" stroke-width="2.3" fill="none" opacity="0.45" stroke-linecap="round"/><path d="M486.3 274.9 Q489.1 271.7 495.0 272.3" stroke="#eab0d0" stroke-width="2.2" fill="none" opacity="0.78" stroke-linecap="round"/><path d="M463.6 289.7 Q468.3 288.9 478.4 292.8" stroke="#a45088" stroke-width="1.8" fill="none" opacity="0.50" stroke-linecap="round"/><path d="M528.8 264.0 Q537.3 260.2 548.3 260.3" stroke="#a45088" stroke-width="2.2" fill="none" opacity="0.43" stroke-linecap="round"/><path d="M467.4 271.7 Q473.3 275.6 482.6 274.5" stroke="#b45e94" stroke-width="2.2" fill="none" opacity="0.43" stroke-linecap="round"/><path d="M489.4 257.5 Q493.3 252.9 496.4 252.8" stroke="#eab0d0" stroke-width="1.6" fill="none" opacity="0.76" stroke-linecap="round"/><path d="M557.7 276.2 Q565.9 279.1 573.0 276.8" stroke="#f6d2e8" stroke-width="1.8" fill="none" opacity="0.54" stroke-linecap="round"/><path d="M477.4 247.5 Q482.4 246.3 484.6 247.3" stroke="#f0c0dc" stroke-width="2.6" fill="none" opacity="0.43" stroke-linecap="round"/><path d="M505.5 279.9 Q515.6 284.3 522.2 283.7" stroke="#f6d2e8" stroke-width="1.6" fill="none" opacity="0.67" stroke-linecap="round"/><path d="M548.1 286.1 Q557.4 285.1 565.8 282.6" stroke="#a45088" stroke-width="1.6" fill="none" opacity="0.63" stroke-linecap="round"/><path d="M513.1 249.7 Q525.4 249.0 535.0 249.6" stroke="#a45088" stroke-width="2.2" fill="none" opacity="0.63" stroke-linecap="round"/><path d="M492.9 284.6 Q498.1 278.3 505.6 276.9" stroke="#f0c0dc" stroke-width="1.0" fill="none" opacity="0.78" stroke-linecap="round"/><path d="M453.5 281.9 Q459.6 279.8 467.3 282.1" stroke="#f0c0dc" stroke-width="2.0" fill="none" opacity="0.61" stroke-linecap="round"/><path d="M530.5 261.8 Q535.8 264.4 543.3 265.0" stroke="#f6d2e8" stroke-width="1.3" fill="none" opacity="0.57" stroke-linecap="round"/><path d="M536.7 288.1 Q545.0 287.5 548.2 290.4" stroke="#eab0d0" stroke-width="1.2" fill="none" opacity="0.54" stroke-linecap="round"/><path d="M547.5 247.9 Q552.6 243.0 562.4 238.4" stroke="#f6d2e8" stroke-width="2.5" fill="none" opacity="0.73" stroke-linecap="round"/><path d="M485.9 269.9 Q494.3 267.6 503.4 270.3" stroke="#eab0d0" stroke-width="1.1" fill="none" opacity="0.75" stroke-linecap="round"/><path d="M445.0 278.6 Q447.5 276.1 455.9 277.9" stroke="#eab0d0" stroke-width="1.7" fill="none" opacity="0.41" stroke-linecap="round"/><path d="M539.6 256.9 Q541.8 256.4 544.7 254.3" stroke="#f0c0dc" stroke-width="2.0" fill="none" opacity="0.72" stroke-linecap="round"/><path d="M555.0 277.5 Q561.8 276.6 566.1 272.7" stroke="#f6d2e8" stroke-width="1.9" fill="none" opacity="0.41" stroke-linecap="round"/><path d="M467.2 281.8 Q478.3 282.4 488.1 280.0" stroke="#eab0d0" stroke-width="1.6" fill="none" opacity="0.72" stroke-linecap="round"/><path d="M548.7 250.0 Q556.5 250.3 564.9 254.2" stroke="#f6d2e8" stroke-width="2.4" fill="none" opacity="0.40" stroke-linecap="round"/><path d="M506.0 276.0 Q515.2 275.8 524.7 273.8" stroke="#b45e94" stroke-width="1.3" fill="none" opacity="0.69" stroke-linecap="round"/><path d="M443 250 Q455 256 470 252 L468 262 Q455 266 443 262Z" fill="#b05890" opacity="0.55"/><path d="M520 249 Q535 258 559 252 L559 262 Q540 266 522 258Z" fill="#b05a92" opacity="0.5"/><path d="M443 266 Q456 270 468 266 L470 276 L443 280Z" fill="#b86298" opacity="0.5"/><path d="M535 262 L559 266 L559 282 L540 284Z" fill="#bc6a9c" opacity="0.45"/><path d="M470 250 Q480 262 472 270 L480 270 Q488 258 482 249Z" fill="#f2c8e2" opacity="0.6"/><path d="M520 250 Q528 262 524 270 L532 270 Q538 258 530 249Z" fill="#f0c4e0" opacity="0.5"/><path d="M492 247 L486 272 L518 272 L510 247Z" fill="#f8dce6" opacity="0.55"/><path d="M497 247 L494 272 L510 272 L505 247Z" fill="#fff0f4" opacity="0.5"/><rect x="443.4" y="229.4" width="115.8" height="17.5" fill="url(#phtop)"/><path d="M441.4 236L443.0 231M443.5 236L445.1 231M445.6 236L447.2 231M447.7 236L449.3 231M449.8 236L451.4 231M451.9 236L453.5 231M454.0 236L455.6 231M456.1 236L457.7 231M458.2 236L459.8 231M460.3 236L461.9 231M462.4 236L464.0 231M464.5 236L466.1 231M466.6 236L468.2 231M468.7 236L470.3 231M470.8 236L472.4 231M472.9 236L474.5 231M475.0 236L476.6 231M477.1 236L478.7 231M479.2 236L480.8 231M481.3 236L482.9 231M483.4 236L485.0 231M485.5 236L487.1 231M487.6 236L489.2 231M489.7 236L491.3 231M491.8 236L493.4 231M493.9 236L495.5 231M496.0 236L497.6 231M498.1 236L499.7 231M500.2 236L501.8 231M502.3 236L503.9 231M504.4 236L506.0 231M506.5 236L508.1 231M508.6 236L510.2 231M510.7 236L512.3 231M512.8 236L514.4 231M514.9 236L516.5 231M517.0 236L518.6 231M519.1 236L520.7 231M521.2 236L522.8 231M523.3 236L524.9 231M525.4 236L527.0 231M527.5 236L529.1 231M529.6 236L531.2 231M531.7 236L533.3 231M533.8 236L535.4 231M535.9 236L537.5 231M538.0 236L539.6 231M540.1 236L541.7 231M542.2 236L543.8 231M544.3 236L545.9 231M546.4 236L548.0 231M548.5 236L550.1 231M550.6 236L552.2 231M552.7 236L554.3 231M554.8 236L556.4 231M556.9 236L558.5 231M559.0 236L560.6 231M561.1 236L562.7 231M441.4 241L443.0 236M443.5 241L445.1 236M445.6 241L447.2 236M447.7 241L449.3 236M449.8 241L451.4 236M451.9 241L453.5 236M454.0 241L455.6 236M456.1 241L457.7 236M458.2 241L459.8 236M460.3 241L461.9 236M462.4 241L464.0 236M464.5 241L466.1 236M466.6 241L468.2 236M468.7 241L470.3 236M470.8 241L472.4 236M472.9 241L474.5 236M475.0 241L476.6 236M477.1 241L478.7 236M479.2 241L480.8 236M481.3 241L482.9 236M483.4 241L485.0 236M485.5 241L487.1 236M487.6 241L489.2 236M489.7 241L491.3 236M491.8 241L493.4 236M493.9 241L495.5 236M496.0 241L497.6 236M498.1 241L499.7 236M500.2 241L501.8 236M502.3 241L503.9 236M504.4 241L506.0 236M506.5 241L508.1 236M508.6 241L510.2 236M510.7 241L512.3 236M512.8 241L514.4 236M514.9 241L516.5 236M517.0 241L518.6 236M519.1 241L520.7 236M521.2 241L522.8 236M523.3 241L524.9 236M525.4 241L527.0 236M527.5 241L529.1 236M529.6 241L531.2 236M531.7 241L533.3 236M533.8 241L535.4 236M535.9 241L537.5 236M538.0 241L539.6 236M540.1 241L541.7 236M542.2 241L543.8 236M544.3 241L545.9 236M546.4 241L548.0 236M548.5 241L550.1 236M550.6 241L552.2 236M552.7 241L554.3 236M554.8 241L556.4 236M556.9 241L558.5 236M559.0 241L560.6 236M561.1 241L562.7 236M441.4 246L443.0 241M443.5 246L445.1 241M445.6 246L447.2 241M447.7 246L449.3 241M449.8 246L451.4 241M451.9 246L453.5 241M454.0 246L455.6 241M456.1 246L457.7 241M458.2 246L459.8 241M460.3 246L461.9 241M462.4 246L464.0 241M464.5 246L466.1 241M466.6 246L468.2 241M468.7 246L470.3 241M470.8 246L472.4 241M472.9 246L474.5 241M475.0 246L476.6 241M477.1 246L478.7 241M479.2 246L480.8 241M481.3 246L482.9 241M483.4 246L485.0 241M485.5 246L487.1 241M487.6 246L489.2 241M489.7 246L491.3 241M491.8 246L493.4 241M493.9 246L495.5 241M496.0 246L497.6 241M498.1 246L499.7 241M500.2 246L501.8 241M502.3 246L503.9 241M504.4 246L506.0 241M506.5 246L508.1 241M508.6 246L510.2 241M510.7 246L512.3 241M512.8 246L514.4 241M514.9 246L516.5 241M517.0 246L518.6 241M519.1 246L520.7 241M521.2 246L522.8 241M523.3 246L524.9 241M525.4 246L527.0 241M527.5 246L529.1 241M529.6 246L531.2 241M531.7 246L533.3 241M533.8 246L535.4 241M535.9 246L537.5 241M538.0 246L539.6 241M540.1 246L541.7 241M542.2 246L543.8 241M544.3 246L545.9 241M546.4 246L548.0 241M548.5 246L550.1 241M550.6 246L552.2 241M552.7 246L554.3 241M554.8 246L556.4 241M556.9 246L558.5 241M559.0 246L560.6 241M561.1 246L562.7 241" stroke="#8a4a52" stroke-width="0.7" opacity="0.7"/><path d="M443.4 247H559.2" stroke="#9a5a68" stroke-width="1"/><linearGradient id="fixg" x1="0" y1="0" x2="1" y2="0"><stop offset="0" stop-color="#56344a"/><stop offset="0.3" stop-color="#6c4460"/><stop offset="0.45" stop-color="#d8b4cc"/><stop offset="0.55" stop-color="#c49cb8"/><stop offset="0.7" stop-color="#664058"/><stop offset="1" stop-color="#56344a"/></linearGradient><rect x="470.7" y="272" width="63.3" height="14.5" fill="url(#fixg)"/><rect x="470.7" y="281" width="63.3" height="5.5" fill="#d8acc8" opacity="0.85"/><path d="M470.7 272H534" stroke="#c88aa0" stroke-width="0.8"/><ellipse cx="452.5" cy="281.5" rx="4.8" ry="8" fill="#2a0e18"/><ellipse cx="455" cy="282" rx="2" ry="4.5" fill="#4a2030" opacity="0.7"/><path d="M466 248 L464 266 L460 284" stroke="#4a2232" stroke-width="0.7" fill="none"/><rect x="443.4" y="296" width="115.8" height="54" fill="url(#phfloor)"/><rect x="443.4" y="296" width="115.8" height="54" fill="url(#phglow)"/><path d="M443.4 294.5 L559.2 293.5" stroke="#7a3444" stroke-width="2.2"/><path d="M443.4 288 L559.2 289" stroke="#b87088" stroke-width="4" opacity="0.6"/><path d="M452 297 L440 350" stroke="#fbeef3" stroke-width="0.7"/><path d="M470 297 L461 350" stroke="#fbeef3" stroke-width="0.7"/><path d="M496 297 L494 350" stroke="#fbeef3" stroke-width="0.7"/><path d="M516 297 L518 350" stroke="#fbeef3" stroke-width="0.7"/><path d="M544 297 L558 350" stroke="#fbeef3" stroke-width="0.7"/><path d="M443.4 310.5 L559.2 310.5" stroke="#e2b2c4" stroke-width="0.6"/><path d="M443.4 321 L559.2 321" stroke="#e2b2c4" stroke-width="0.6"/><path d="M443.4 332 L559.2 332" stroke="#e2b2c4" stroke-width="0.6"/><path d="M443.4 348.5 L559.2 348.5" stroke="#e2b2c4" stroke-width="0.6"/><ellipse cx="451.7" cy="298.6" rx="1.6" ry="1.1" fill="#74404e"/><ellipse cx="463.4" cy="309.6" rx="1.6" ry="1.1" fill="#74404e"/><ellipse cx="477.4" cy="320.3" rx="1.6" ry="1.1" fill="#74404e"/><ellipse cx="496.9" cy="302" rx="1.6" ry="1.1" fill="#74404e"/><ellipse cx="496.5" cy="310.7" rx="1.6" ry="1.1" fill="#74404e"/><ellipse cx="495.5" cy="320.8" rx="1.6" ry="1.1" fill="#74404e"/><ellipse cx="453.4" cy="332" rx="1.6" ry="1.1" fill="#74404e"/><ellipse cx="473.8" cy="331.7" rx="1.6" ry="1.1" fill="#74404e"/><ellipse cx="469.8" cy="348.3" rx="1.6" ry="1.1" fill="#74404e"/><ellipse cx="493.6" cy="348.6" rx="1.6" ry="1.1" fill="#74404e"/><ellipse cx="544.5" cy="299.5" rx="1.6" ry="1.1" fill="#74404e"/><ellipse cx="531" cy="311.6" rx="1.6" ry="1.1" fill="#74404e"/><ellipse cx="514.3" cy="321.5" rx="1.6" ry="1.1" fill="#74404e"/><ellipse cx="516" cy="333.6" rx="1.6" ry="1.1" fill="#74404e"/><ellipse cx="517" cy="349" rx="1.6" ry="1.1" fill="#74404e"/><ellipse cx="558" cy="334.6" rx="1.6" ry="1.1" fill="#74404e"/><rect x="490.5" y="328" width="9" height="6" rx="1" fill="#8a2c4c"/><path d="M553 292 L559 300" stroke="#8a5a4a" stroke-width="3" opacity="0.6"/><path d="M538.8 229.4 L537.3 349.5" stroke="url(#phpole)" stroke-width="2.8"/></g>
<path d="M5 399.4H226M386.6 399.4H595.6" stroke="#7a7a7a" stroke-width="1.4"/>
<g fill="#333" font-family="Liberation Sans, sans-serif"><text x="242.8" y="402.6" font-size="9.8" stroke="#333" stroke-width="0.45" textLength="39.6" lengthAdjust="spacingAndGlyphs">PPFD</text><text x="287.5" y="403.2" font-size="10.5" fill="#777">(</text><text x="292.5" y="402.6" font-size="9" fill="#666">μ</text><text x="302.8" y="401.8" font-size="7" font-weight="bold">•</text><text x="311.8" y="402.8" font-size="10.4" font-weight="bold" textLength="53.7" lengthAdjust="spacingAndGlyphs">mol/m²·s</text><text x="366.8" y="403.2" font-size="10.5" fill="#777">)</text></g>
<rect x="66" y="417.5" width="473" height="169.5" fill="#fcfefe" stroke="#d4a498" stroke-width="1.3"/>
<path d="M224.8 417.4V587M378.8 417.4V587" stroke="#d4a498" stroke-width="1.3"/>
<text x="147.1" y="432.8" text-anchor="middle" fill="#2a2a2a" font-family="Liberation Sans, sans-serif" font-size="10.6">@12"</text>
<path d="M81.1 574V442M213.1 442V574" stroke="#2a2a2a" stroke-width="1.15" stroke-dasharray="2.2 2.2" fill="none"/><path d="M81.1 442H213.1" stroke="#5a5a5a" stroke-width="1.15" stroke-dasharray="2.2 2.2" fill="none"/><path d="M81.1 574H213.1" stroke="#e89a7c" stroke-width="1.15" stroke-dasharray="2.2 2.2" fill="none"/><path d="M97.6 557.5V458.5M196.6 458.5V557.5" stroke="#2a2a2a" stroke-width="1.15" stroke-dasharray="2.2 2.2" fill="none"/><path d="M97.6 458.5H196.6" stroke="#5a5a5a" stroke-width="1.15" stroke-dasharray="2.2 2.2" fill="none"/><path d="M97.6 557.5H196.6" stroke="#e89a7c" stroke-width="1.15" stroke-dasharray="2.2 2.2" fill="none"/><path d="M114.1 541V475M180.1 475V541" stroke="#2a2a2a" stroke-width="1.15" stroke-dasharray="2.2 2.2" fill="none"/><path d="M114.1 475H180.1" stroke="#5a5a5a" stroke-width="1.15" stroke-dasharray="2.2 2.2" fill="none"/><path d="M114.1 541H180.1" stroke="#e89a7c" stroke-width="1.15" stroke-dasharray="2.2 2.2" fill="none"/><path d="M130.6 524.5V491.5M163.6 491.5V524.5" stroke="#2a2a2a" stroke-width="1.15" stroke-dasharray="2.2 2.2" fill="none"/><path d="M130.6 491.5H163.6" stroke="#5a5a5a" stroke-width="1.15" stroke-dasharray="2.2 2.2" fill="none"/><path d="M130.6 524.5H163.6" stroke="#e89a7c" stroke-width="1.15" stroke-dasharray="2.2 2.2" fill="none"/>
<g fill="#cf5f42"><circle cx="81.1" cy="442" r="2.1"/><circle cx="147.1" cy="442" r="2.1"/><circle cx="213.1" cy="442" r="2.1"/><circle cx="81.1" cy="508" r="2.1"/><circle cx="213.1" cy="508" r="2.1"/><circle cx="81.1" cy="574" r="2.1"/><circle cx="147.1" cy="574" r="2.1"/><circle cx="213.1" cy="574" r="2.1"/><circle cx="97.6" cy="458.5" r="2.1"/><circle cx="147.1" cy="458.5" r="2.1"/><circle cx="196.6" cy="458.5" r="2.1"/><circle cx="97.6" cy="508" r="2.1"/><circle cx="196.6" cy="508" r="2.1"/><circle cx="97.6" cy="557.5" r="2.1"/><circle cx="147.1" cy="557.5" r="2.1"/><circle cx="196.6" cy="557.5" r="2.1"/><circle cx="114.1" cy="475" r="2.1"/><circle cx="147.1" cy="475" r="2.1"/><circle cx="180.1" cy="475" r="2.1"/><circle cx="114.1" cy="508" r="2.1"/><circle cx="180.1" cy="508" r="2.1"/><circle cx="114.1" cy="541" r="2.1"/><circle cx="147.1" cy="541" r="2.1"/><circle cx="180.1" cy="541" r="2.1"/><circle cx="130.6" cy="491.5" r="2.1"/><circle cx="147.1" cy="491.5" r="2.1"/><circle cx="163.6" cy="491.5" r="2.1"/><circle cx="130.6" cy="508" r="2.1"/><circle cx="163.6" cy="508" r="2.1"/><circle cx="130.6" cy="524.5" r="2.1"/><circle cx="147.1" cy="524.5" r="2.1"/><circle cx="163.6" cy="524.5" r="2.1"/><circle cx="147.1" cy="508" r="2.1"/></g>
<g font-family="Liberation Sans, sans-serif"><text x="155.1" y="572.8" fill="#e0704c" stroke="#e0704c" stroke-width="0.15" font-size="6.5">4ft</text><text x="155.1" y="556.3" fill="#e0704c" stroke="#e0704c" stroke-width="0.15" font-size="6.5">3ft</text><text x="155.1" y="539.8" fill="#e0704c" stroke="#e0704c" stroke-width="0.15" font-size="6.5">2ft</text><text x="114.1" y="481.2" text-anchor="middle" fill="#1a1a1a" font-size="4.9" font-weight="bold">20</text><text x="147.1" y="481.2" text-anchor="middle" fill="#1a1a1a" font-size="4.9" font-weight="bold">55</text><text x="180.1" y="481.2" text-anchor="middle" fill="#1a1a1a" font-size="4.9" font-weight="bold">20</text><text x="114.1" y="547.2" text-anchor="middle" fill="#1a1a1a" font-size="4.9" font-weight="bold">22</text><text x="147.1" y="547.2" text-anchor="middle" fill="#1a1a1a" font-size="4.9" font-weight="bold">52</text><text x="180.1" y="547.2" text-anchor="middle" fill="#1a1a1a" font-size="4.9" font-weight="bold">18</text><text x="114.1" y="514.2" text-anchor="middle" fill="#1a1a1a" font-size="4.9" font-weight="bold">462</text><text x="180.1" y="514.2" text-anchor="middle" fill="#1a1a1a" font-size="4.9" font-weight="bold">456</text><text x="155.1" y="523.3" fill="#e0704c" stroke="#e0704c" stroke-width="0.15" font-size="6.5">1ft</text><text x="130.6" y="497.7" text-anchor="middle" fill="#1a1a1a" font-size="4.9" font-weight="bold">671</text><text x="147.1" y="497.7" text-anchor="middle" fill="#1a1a1a" font-size="4.9" font-weight="bold">1052</text><text x="163.6" y="497.7" text-anchor="middle" fill="#1a1a1a" font-size="4.9" font-weight="bold">968</text><text x="130.6" y="530.7" text-anchor="middle" fill="#1a1a1a" font-size="4.9" font-weight="bold">670</text><text x="147.1" y="530.7" text-anchor="middle" fill="#1a1a1a" font-size="4.9" font-weight="bold">1040</text><text x="163.6" y="530.7" text-anchor="middle" fill="#1a1a1a" font-size="4.9" font-weight="bold">860</text><text x="130.6" y="514.2" text-anchor="middle" fill="#1a1a1a" font-size="4.9" font-weight="bold">1221</text><text x="147.1" y="514.2" text-anchor="middle" fill="#1a1a1a" font-size="4.9" font-weight="bold">1560</text><text x="163.6" y="514.2" text-anchor="middle" fill="#1a1a1a" font-size="4.9" font-weight="bold">1206</text></g>
<text x="301.8" y="432.8" text-anchor="middle" fill="#2a2a2a" font-family="Liberation Sans, sans-serif" font-size="10.6">@24"</text>
<path d="M235.8 574V442M367.8 442V574" stroke="#2a2a2a" stroke-width="1.15" stroke-dasharray="2.2 2.2" fill="none"/><path d="M235.8 442H367.8" stroke="#5a5a5a" stroke-width="1.15" stroke-dasharray="2.2 2.2" fill="none"/><path d="M235.8 574H367.8" stroke="#e89a7c" stroke-width="1.15" stroke-dasharray="2.2 2.2" fill="none"/><path d="M252.3 557.5V458.5M351.3 458.5V557.5" stroke="#2a2a2a" stroke-width="1.15" stroke-dasharray="2.2 2.2" fill="none"/><path d="M252.3 458.5H351.3" stroke="#5a5a5a" stroke-width="1.15" stroke-dasharray="2.2 2.2" fill="none"/><path d="M252.3 557.5H351.3" stroke="#e89a7c" stroke-width="1.15" stroke-dasharray="2.2 2.2" fill="none"/><path d="M268.8 541V475M334.8 475V541" stroke="#2a2a2a" stroke-width="1.15" stroke-dasharray="2.2 2.2" fill="none"/><path d="M268.8 475H334.8" stroke="#5a5a5a" stroke-width="1.15" stroke-dasharray="2.2 2.2" fill="none"/><path d="M268.8 541H334.8" stroke="#e89a7c" stroke-width="1.15" stroke-dasharray="2.2 2.2" fill="none"/><path d="M285.3 524.5V491.5M318.3 491.5V524.5" stroke="#2a2a2a" stroke-width="1.15" stroke-dasharray="2.2 2.2" fill="none"/><path d="M285.3 491.5H318.3" stroke="#5a5a5a" stroke-width="1.15" stroke-dasharray="2.2 2.2" fill="none"/><path d="M285.3 524.5H318.3" stroke="#e89a7c" stroke-width="1.15" stroke-dasharray="2.2 2.2" fill="none"/>
<g fill="#cf5f42"><circle cx="235.8" cy="442" r="2.1"/><circle cx="301.8" cy="442" r="2.1"/><circle cx="367.8" cy="442" r="2.1"/><circle cx="235.8" cy="508" r="2.1"/><circle cx="367.8" cy="508" r="2.1"/><circle cx="235.8" cy="574" r="2.1"/><circle cx="301.8" cy="574" r="2.1"/><circle cx="367.8" cy="574" r="2.1"/><circle cx="252.3" cy="458.5" r="2.1"/><circle cx="301.8" cy="458.5" r="2.1"/><circle cx="351.3" cy="458.5" r="2.1"/><circle cx="252.3" cy="508" r="2.1"/><circle cx="351.3" cy="508" r="2.1"/><circle cx="252.3" cy="557.5" r="2.1"/><circle cx="301.8" cy="557.5" r="2.1"/><circle cx="351.3" cy="557.5" r="2.1"/><circle cx="268.8" cy="475" r="2.1"/><circle cx="301.8" cy="475" r="2.1"/><circle cx="334.8" cy="475" r="2.1"/><circle cx="268.8" cy="508" r="2.1"/><circle cx="334.8" cy="508" r="2.1"/><circle cx="268.8" cy="541" r="2.1"/><circle cx="301.8" cy="541" r="2.1"/><circle cx="334.8" cy="541" r="2.1"/><circle cx="285.3" cy="491.5" r="2.1"/><circle cx="301.8" cy="491.5" r="2.1"/><circle cx="318.3" cy="491.5" r="2.1"/><circle cx="285.3" cy="508" r="2.1"/><circle cx="318.3" cy="508" r="2.1"/><circle cx="285.3" cy="524.5" r="2.1"/><circle cx="301.8" cy="524.5" r="2.1"/><circle cx="318.3" cy="524.5" r="2.1"/><circle cx="301.8" cy="508" r="2.1"/></g>
<g font-family="Liberation Sans, sans-serif"><text x="309.8" y="572.8" fill="#e0704c" stroke="#e0704c" stroke-width="0.15" font-size="6.5">4ft</text><text x="235.8" y="514.2" text-anchor="middle" fill="#1a1a1a" font-size="4.9" font-weight="bold">93</text><text x="367.8" y="514.2" text-anchor="middle" fill="#1a1a1a" font-size="4.9" font-weight="bold">90</text><text x="309.8" y="556.3" fill="#e0704c" stroke="#e0704c" stroke-width="0.15" font-size="6.5">3ft</text><text x="252.3" y="464.7" text-anchor="middle" fill="#1a1a1a" font-size="4.9" font-weight="bold">57</text><text x="301.8" y="464.7" text-anchor="middle" fill="#1a1a1a" font-size="4.9" font-weight="bold">117</text><text x="351.3" y="464.7" text-anchor="middle" fill="#1a1a1a" font-size="4.9" font-weight="bold">55</text><text x="252.3" y="563.7" text-anchor="middle" fill="#1a1a1a" font-size="4.9" font-weight="bold">15</text><text x="301.8" y="563.7" text-anchor="middle" fill="#1a1a1a" font-size="4.9" font-weight="bold">110</text><text x="351.3" y="563.7" text-anchor="middle" fill="#1a1a1a" font-size="4.9" font-weight="bold">14</text><text x="252.3" y="514.2" text-anchor="middle" fill="#1a1a1a" font-size="4.9" font-weight="bold">176</text><text x="351.3" y="514.2" text-anchor="middle" fill="#1a1a1a" font-size="4.9" font-weight="bold">170</text><text x="309.8" y="539.8" fill="#e0704c" stroke="#e0704c" stroke-width="0.15" font-size="6.5">2ft</text><text x="268.8" y="481.2" text-anchor="middle" fill="#1a1a1a" font-size="4.9" font-weight="bold">171</text><text x="301.8" y="481.2" text-anchor="middle" fill="#1a1a1a" font-size="4.9" font-weight="bold">313</text><text x="334.8" y="481.2" text-anchor="middle" fill="#1a1a1a" font-size="4.9" font-weight="bold">166</text><text x="268.8" y="547.2" text-anchor="middle" fill="#1a1a1a" font-size="4.9" font-weight="bold">157</text><text x="301.8" y="547.2" text-anchor="middle" fill="#1a1a1a" font-size="4.9" font-weight="bold">300</text><text x="334.8" y="547.2" text-anchor="middle" fill="#1a1a1a" font-size="4.9" font-weight="bold">155</text><text x="268.8" y="514.2" text-anchor="middle" fill="#1a1a1a" font-size="4.9" font-weight="bold">365</text><text x="334.8" y="514.2" text-anchor="middle" fill="#1a1a1a" font-size="4.9" font-weight="bold">380</text><text x="309.8" y="523.3" fill="#e0704c" stroke="#e0704c" stroke-width="0.15" font-size="6.5">1ft</text><text x="285.3" y="497.7" text-anchor="middle" fill="#1a1a1a" font-size="4.9" font-weight="bold">372</text><text x="301.8" y="497.7" text-anchor="middle" fill="#1a1a1a" font-size="4.9" font-weight="bold">389</text><text x="318.3" y="497.7" text-anchor="middle" fill="#1a1a1a" font-size="4.9" font-weight="bold">346</text><text x="285.3" y="530.7" text-anchor="middle" fill="#1a1a1a" font-size="4.9" font-weight="bold">372</text><text x="301.8" y="530.7" text-anchor="middle" fill="#1a1a1a" font-size="4.9" font-weight="bold">385</text><text x="318.3" y="530.7" text-anchor="middle" fill="#1a1a1a" font-size="4.9" font-weight="bold">360</text><text x="285.3" y="514.2" text-anchor="middle" fill="#1a1a1a" font-size="4.9" font-weight="bold">412</text><text x="301.8" y="514.2" text-anchor="middle" fill="#1a1a1a" font-size="4.9" font-weight="bold">450</text><text x="318.3" y="514.2" text-anchor="middle" fill="#1a1a1a" font-size="4.9" font-weight="bold">450</text></g>
<text x="456.3" y="432.8" text-anchor="middle" fill="#2a2a2a" font-family="Liberation Sans, sans-serif" font-size="10.6">@36"</text>
<path d="M390.3 574V442M522.3 442V574" stroke="#2a2a2a" stroke-width="1.15" stroke-dasharray="2.2 2.2" fill="none"/><path d="M390.3 442H522.3" stroke="#5a5a5a" stroke-width="1.15" stroke-dasharray="2.2 2.2" fill="none"/><path d="M390.3 574H522.3" stroke="#e89a7c" stroke-width="1.15" stroke-dasharray="2.2 2.2" fill="none"/><path d="M406.8 557.5V458.5M505.8 458.5V557.5" stroke="#2a2a2a" stroke-width="1.15" stroke-dasharray="2.2 2.2" fill="none"/><path d="M406.8 458.5H505.8" stroke="#5a5a5a" stroke-width="1.15" stroke-dasharray="2.2 2.2" fill="none"/><path d="M406.8 557.5H505.8" stroke="#e89a7c" stroke-width="1.15" stroke-dasharray="2.2 2.2" fill="none"/><path d="M423.3 541V475M489.3 475V541" stroke="#2a2a2a" stroke-width="1.15" stroke-dasharray="2.2 2.2" fill="none"/><path d="M423.3 475H489.3" stroke="#5a5a5a" stroke-width="1.15" stroke-dasharray="2.2 2.2" fill="none"/><path d="M423.3 541H489.3" stroke="#e89a7c" stroke-width="1.15" stroke-dasharray="2.2 2.2" fill="none"/><path d="M439.8 524.5V491.5M472.8 491.5V524.5" stroke="#2a2a2a" stroke-width="1.15" stroke-dasharray="2.2 2.2" fill="none"/><path d="M439.8 491.5H472.8" stroke="#5a5a5a" stroke-width="1.15" stroke-dasharray="2.2 2.2" fill="none"/><path d="M439.8 524.5H472.8" stroke="#e89a7c" stroke-width="1.15" stroke-dasharray="2.2 2.2" fill="none"/>
<g fill="#cf5f42"><circle cx="390.3" cy="442" r="2.1"/><circle cx="456.3" cy="442" r="2.1"/><circle cx="522.3" cy="442" r="2.1"/><circle cx="390.3" cy="508" r="2.1"/><circle cx="522.3" cy="508" r="2.1"/><circle cx="390.3" cy="574" r="2.1"/><circle cx="456.3" cy="574" r="2.1"/><circle cx="522.3" cy="574" r="2.1"/><circle cx="406.8" cy="458.5" r="2.1"/><circle cx="456.3" cy="458.5" r="2.1"/><circle cx="505.8" cy="458.5" r="2.1"/><circle cx="406.8" cy="508" r="2.1"/><circle cx="505.8" cy="508" r="2.1"/><circle cx="406.8" cy="557.5" r="2.1"/><circle cx="456.3" cy="557.5" r="2.1"/><circle cx="505.8" cy="557.5" r="2.1"/><circle cx="423.3" cy="475" r="2.1"/><circle cx="456.3" cy="475" r="2.1"/><circle cx="489.3" cy="475" r="2.1"/><circle cx="423.3" cy="508" r="2.1"/><circle cx="489.3" cy="508" r="2.1"/><circle cx="423.3" cy="541" r="2.1"/><circle cx="456.3" cy="541" r="2.1"/><circle cx="489.3" cy="541" r="2.1"/><circle cx="439.8" cy="491.5" r="2.1"/><circle cx="456.3" cy="491.5" r="2.1"/><circle cx="472.8" cy="491.5" r="2.1"/><circle cx="439.8" cy="508" r="2.1"/><circle cx="472.8" cy="508" r="2.1"/><circle cx="439.8" cy="524.5" r="2.1"/><circle cx="456.3" cy="524.5" r="2.1"/><circle cx="472.8" cy="524.5" r="2.1"/><circle cx="456.3" cy="508" r="2.1"/></g>
<g font-family="Liberation Sans, sans-serif"><text x="464.3" y="572.8" fill="#e0704c" stroke="#e0704c" stroke-width="0.15" font-size="6.5">4ft</text><text x="390.3" y="448.2" text-anchor="middle" fill="#1a1a1a" font-size="4.9" font-weight="bold">10</text><text x="456.3" y="448.2" text-anchor="middle" fill="#1a1a1a" font-size="4.9" font-weight="bold">128</text><text x="522.3" y="448.2" text-anchor="middle" fill="#1a1a1a" font-size="4.9" font-weight="bold">10</text><text x="390.3" y="580.2" text-anchor="middle" fill="#1a1a1a" font-size="4.9" font-weight="bold">15</text><text x="456.3" y="580.2" text-anchor="middle" fill="#1a1a1a" font-size="4.9" font-weight="bold">129</text><text x="522.3" y="580.2" text-anchor="middle" fill="#1a1a1a" font-size="4.9" font-weight="bold">15</text><text x="390.3" y="514.2" text-anchor="middle" fill="#1a1a1a" font-size="4.9" font-weight="bold">135</text><text x="522.3" y="514.2" text-anchor="middle" fill="#1a1a1a" font-size="4.9" font-weight="bold">130</text><text x="464.3" y="556.3" fill="#e0704c" stroke="#e0704c" stroke-width="0.15" font-size="6.5">3ft</text><text x="406.8" y="464.7" text-anchor="middle" fill="#1a1a1a" font-size="4.9" font-weight="bold">106</text><text x="456.3" y="464.7" text-anchor="middle" fill="#1a1a1a" font-size="4.9" font-weight="bold">159</text><text x="505.8" y="464.7" text-anchor="middle" fill="#1a1a1a" font-size="4.9" font-weight="bold">165</text><text x="406.8" y="563.7" text-anchor="middle" fill="#1a1a1a" font-size="4.9" font-weight="bold">158</text><text x="456.3" y="563.7" text-anchor="middle" fill="#1a1a1a" font-size="4.9" font-weight="bold">155</text><text x="505.8" y="563.7" text-anchor="middle" fill="#1a1a1a" font-size="4.9" font-weight="bold">165</text><text x="406.8" y="514.2" text-anchor="middle" fill="#1a1a1a" font-size="4.9" font-weight="bold">165</text><text x="505.8" y="514.2" text-anchor="middle" fill="#1a1a1a" font-size="4.9" font-weight="bold">160</text><text x="464.3" y="539.8" fill="#e0704c" stroke="#e0704c" stroke-width="0.15" font-size="6.5">2ft</text><text x="423.3" y="481.2" text-anchor="middle" fill="#1a1a1a" font-size="4.9" font-weight="bold">195</text><text x="456.3" y="481.2" text-anchor="middle" fill="#1a1a1a" font-size="4.9" font-weight="bold">191</text><text x="489.3" y="481.2" text-anchor="middle" fill="#1a1a1a" font-size="4.9" font-weight="bold">168</text><text x="423.3" y="547.2" text-anchor="middle" fill="#1a1a1a" font-size="4.9" font-weight="bold">158</text><text x="456.3" y="547.2" text-anchor="middle" fill="#1a1a1a" font-size="4.9" font-weight="bold">185</text><text x="489.3" y="547.2" text-anchor="middle" fill="#1a1a1a" font-size="4.9" font-weight="bold">165</text><text x="423.3" y="514.2" text-anchor="middle" fill="#1a1a1a" font-size="4.9" font-weight="bold">190</text><text x="489.3" y="514.2" text-anchor="middle" fill="#1a1a1a" font-size="4.9" font-weight="bold">190</text><text x="464.3" y="523.3" fill="#e0704c" stroke="#e0704c" stroke-width="0.15" font-size="6.5">1ft</text><text x="439.8" y="497.7" text-anchor="middle" fill="#1a1a1a" font-size="4.9" font-weight="bold">287</text><text x="456.3" y="497.7" text-anchor="middle" fill="#1a1a1a" font-size="4.9" font-weight="bold">210</text><text x="472.8" y="497.7" text-anchor="middle" fill="#1a1a1a" font-size="4.9" font-weight="bold">263</text><text x="439.8" y="530.7" text-anchor="middle" fill="#1a1a1a" font-size="4.9" font-weight="bold">202</text><text x="456.3" y="530.7" text-anchor="middle" fill="#1a1a1a" font-size="4.9" font-weight="bold">205</text><text x="472.8" y="530.7" text-anchor="middle" fill="#1a1a1a" font-size="4.9" font-weight="bold">200</text><text x="439.8" y="514.2" text-anchor="middle" fill="#1a1a1a" font-size="4.9" font-weight="bold">213</text><text x="456.3" y="514.2" text-anchor="middle" fill="#1a1a1a" font-size="4.9" font-weight="bold">220</text><text x="472.8" y="514.2" text-anchor="middle" fill="#1a1a1a" font-size="4.9" font-weight="bold">205</text></g></svg>
</body></html>
